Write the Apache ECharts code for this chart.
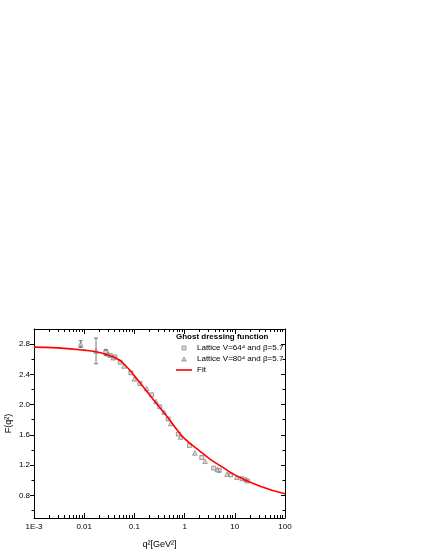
<html>
<head>
    <meta charset="utf-8">
    <title>Ghost dressing function</title>
    <script src="https://cdn.jsdelivr.net/npm/echarts@6/dist/echarts.min.js"></script>
    <style>
        html,body { margin:0; padding:0; background:#fff; }
    </style>
</head>
<body>
    <div id="main" style="width:425px;height:550px;"></div>
    <script type="text/javascript">
        // values
        var fitQ2 = [0.001, 0.003, 0.01, 0.02, 0.032, 0.05, 0.07, 0.1, 0.14, 0.2, 0.32, 0.5, 0.7, 1, 1.8, 3.2, 5.8, 10, 32, 100];
        var fitF  = [2.76, 2.75, 2.72, 2.69, 2.65, 2.59, 2.50, 2.38, 2.26, 2.13, 1.96, 1.80, 1.67, 1.55, 1.41, 1.28, 1.17, 1.07, 0.92, 0.82];

        var latt64Q2 = [0.027, 0.033, 0.041, 0.052, 0.085, 0.129, 0.22, 0.32, 0.47, 0.75, 1.25, 2.2, 3.8, 4.9, 8.3, 13.9, 17.8];
        var latt64F  = [2.69, 2.65, 2.63, 2.56, 2.42, 2.28, 2.13, 1.97, 1.81, 1.61, 1.46, 1.30, 1.16, 1.13, 1.07, 1.02, 0.99];

        var latt80Q2 = [0.0085, 0.0172, 0.030, 0.038, 0.062, 0.10, 0.176, 0.27, 0.39, 0.53, 0.83, 1.6, 2.55, 4.5, 7.0, 10.9, 16.7];
        var latt80F  = [2.80, 2.71, 2.67, 2.62, 2.51, 2.34, 2.21, 2.04, 1.90, 1.75, 1.57, 1.36, 1.25, 1.14, 1.08, 1.04, 1.01];

        // error bars only visible on the first few points
        var errQ2 = [0.0085, 0.0172, 0.027];
        var errF  = [2.80, 2.71, 2.69];
        var errD  = [0.045, 0.17, 0.04];

        var yLabels = [0.8, 1.2, 1.6, 2.0, 2.4, 2.8];
        var yMinor  = [0.6, 1.0, 1.4, 1.8, 2.2, 2.6];
        var xLabels = [0.001, 0.01, 0.1, 1, 10, 100];

        var xMinor = [];
        for (var d = 0; d < xLabels.length - 1; d++) {
            for (var k = 2; k <= 9; k++) {
                xMinor.push(+(xLabels[d] * k).toPrecision(3));
            }
        }

        function pairs(xs, ys) {
            var out = [];
            for (var i = 0; i < xs.length; i++) out.push([xs[i], ys[i]]);
            return out;
        }

        var errData = [];
        for (var i = 0; i < errQ2.length; i++) errData.push([errQ2[i], errF[i] - errD[i], errF[i] + errD[i]]);

        var fnt = 'Liberation Sans, Arial, sans-serif';
        var myChart = echarts.init(document.getElementById('main'));

        function xAx(pos, vals, len, inside, showLabel) {
            return {
                type: 'log', logBase: 10, min: 0.001, max: 100,
                position: pos,
                axisLine: { show: showLabel, onZero: false, lineStyle: { color: '#000', width: 1 } },
                axisTick: { show: true, inside: inside, length: len, customValues: vals, lineStyle: { color: '#000' } },
                axisLabel: {
                    show: showLabel, customValues: vals, color: '#000', fontFamily: fnt, fontSize: 8, margin: 5,
                    formatter: function (v) { return v === 0.001 ? '1E-3' : String(v); }
                },
                splitLine: { show: false }, minorTick: { show: false }
            };
        }
        function yAx(pos, vals, len, inside, showLabel) {
            return {
                type: 'value', min: 0.5, max: 3.0,
                position: pos,
                axisLine: { show: showLabel, onZero: false, lineStyle: { color: '#000', width: 1 } },
                axisTick: { show: true, inside: inside, length: len, customValues: vals, lineStyle: { color: '#000' } },
                axisLabel: {
                    show: showLabel, customValues: vals, color: '#000', fontFamily: fnt, fontSize: 8, margin: 4,
                    formatter: function (v) { return v.toFixed(1); }
                },
                splitLine: { show: false }
            };
        }

        var xAxes = [
            xAx('bottom', xLabels, 5, true, true),
            xAx('bottom', xMinor, 3, true, false),
            xAx('top', xLabels, 5, true, true),
            xAx('top', xMinor, 3, true, false)
        ];
        xAxes[0].name = 'q\u00b2[GeV\u00b2]';
        xAxes[0].nameLocation = 'middle';
        xAxes[0].nameGap = 22;
        xAxes[0].nameMoveOverlap = false;
        xAxes[0].nameTextStyle = { color: '#000', fontFamily: fnt, fontSize: 9 };
        xAxes[2].axisLabel.show = false;

        var yAxes = [
            yAx('left', yLabels, 4, false, true),
            yAx('left', yMinor, 2.5, false, false),
            yAx('right', yLabels, 4, true, true),
            yAx('right', yMinor, 2.5, true, false)
        ];
        yAxes[0].name = 'F(q\u00b2)';
        yAxes[0].nameLocation = 'middle';
        yAxes[0].nameGap = 21;
        yAxes[0].nameMoveOverlap = false;
        yAxes[0].nameTextStyle = { color: '#000', fontFamily: fnt, fontSize: 9 };
        yAxes[2].axisLabel.show = false;

        var pointStyle = { color: '#d4d4d4', borderColor: '#444', borderWidth: 0.6 };

        option = {
            animation: false,
            backgroundColor: '#fff',
            grid: { left: 34, right: 140, top: 329, bottom: 32, outerBoundsMode: 'none' },
            title: {
                text: 'Ghost dressing function',
                left: 176, top: 333, padding: 0,
                textStyle: { fontFamily: fnt, fontSize: 8, fontWeight: 'bold', color: '#000' }
            },
            legend: {
                orient: 'vertical',
                left: 176, top: 344, padding: 0,
                itemWidth: 16, itemHeight: 4, itemGap: 3,
                symbolKeepAspect: true,
                textStyle: { fontFamily: fnt, fontSize: 8, color: '#000' },
                data: [
                    { name: 'Lattice V=64\u2074 and \u03b2=5.7', icon: 'path://M0,0h10v10h-10z', itemStyle: pointStyle },
                    { name: 'Lattice V=80\u2074 and \u03b2=5.7', icon: 'path://M5,0L10,9H0z', itemStyle: pointStyle },
                    { name: 'Fit', icon: 'path://M0,0h40v4h-40z', itemStyle: { color: '#ff0000', borderWidth: 0 } }
                ]
            },
            xAxis: xAxes,
            yAxis: yAxes,
            series: [
                {
                    name: 'error',
                    type: 'custom',
                    data: errData,
                    z: 2,
                    renderItem: function (params, api) {
                        var lo = api.coord([api.value(0), api.value(1)]);
                        var hi = api.coord([api.value(0), api.value(2)]);
                        var c = 2;
                        var st = { stroke: '#777', lineWidth: 1 };
                        return {
                            type: 'group',
                            children: [
                                { type: 'line', shape: { x1: lo[0], y1: lo[1], x2: hi[0], y2: hi[1] }, style: st },
                                { type: 'line', shape: { x1: lo[0] - c, y1: lo[1], x2: lo[0] + c, y2: lo[1] }, style: st },
                                { type: 'line', shape: { x1: hi[0] - c, y1: hi[1], x2: hi[0] + c, y2: hi[1] }, style: st }
                            ]
                        };
                    }
                },
                {
                    name: 'Lattice V=64\u2074 and \u03b2=5.7',
                    type: 'scatter',
                    symbol: 'rect',
                    symbolSize: 4,
                    itemStyle: pointStyle,
                    z: 3,
                    data: pairs(latt64Q2, latt64F)
                },
                {
                    name: 'Lattice V=80\u2074 and \u03b2=5.7',
                    type: 'scatter',
                    symbol: 'triangle',
                    symbolSize: 4.5,
                    itemStyle: pointStyle,
                    z: 3,
                    data: pairs(latt80Q2, latt80F)
                },
                {
                    name: 'Fit',
                    type: 'line',
                    smooth: 0.5,
                    symbol: 'none',
                    z: 4,
                    lineStyle: { color: '#ff0000', width: 1.6 },
                    itemStyle: { color: '#ff0000' },
                    data: pairs(fitQ2, fitF)
                }
            ]
        };
        myChart.setOption(option);
    </script>
</body>
</html>
